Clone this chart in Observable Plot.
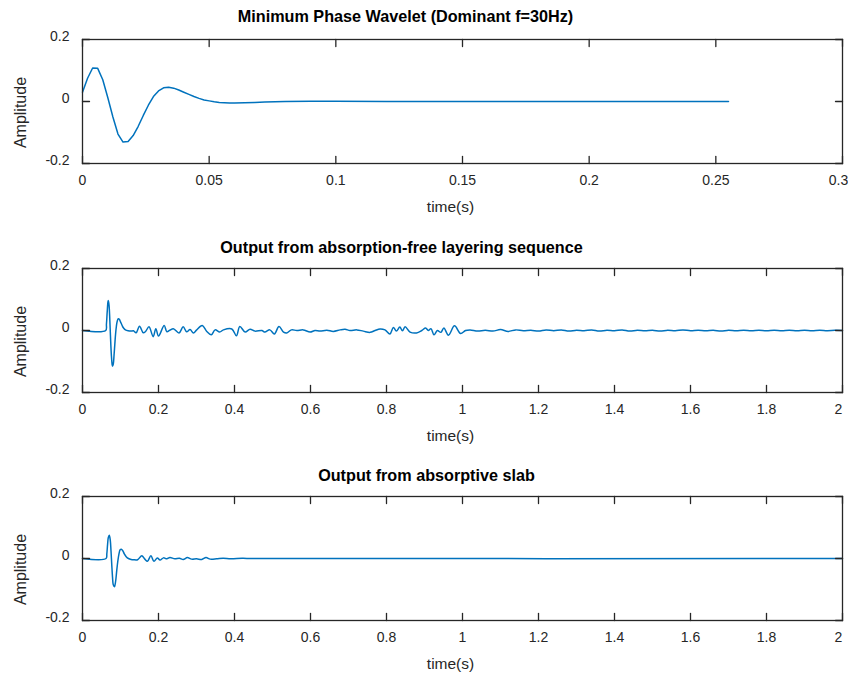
<!DOCTYPE html>
<html>
<head>
<meta charset="utf-8">
<script src="https://cdn.jsdelivr.net/npm/d3@7"></script>
<script src="https://cdn.jsdelivr.net/npm/@observablehq/plot@0.6"></script>
<style>
  html, body { margin: 0; padding: 0; background: #fff; }
  svg { display: block; }
</style>
</head>
<body>
<script>
// ---------- DATA ----------
const titles = [
  "Minimum Phase Wavelet (Dominant f=30Hz)",
  "Output from absorption-free layering sequence",
  "Output from absorptive slab"
];
const xLabel = "time(s)";
const yLabel = "Amplitude";

const xTicksWavelet = [0, 0.05, 0.1, 0.15, 0.2, 0.25, 0.3];
const xTicksOutput = [0, 0.2, 0.4, 0.6, 0.8, 1, 1.2, 1.4, 1.6, 1.8, 2];
const yTicks = [-0.2, 0, 0.2];

const waveletTime = [0, 0.002, 0.004, 0.006, 0.008, 0.010, 0.012, 0.014, 0.016, 0.018, 0.020, 0.022, 0.024, 0.026, 0.028, 0.030, 0.032, 0.034, 0.036, 0.038, 0.040, 0.042, 0.044, 0.046, 0.048, 0.050, 0.052, 0.054, 0.056, 0.058, 0.060, 0.064, 0.068, 0.072, 0.076, 0.080, 0.090, 0.100, 0.120, 0.150, 0.200, 0.255];
const waveletAmp = [0.030, 0.075, 0.108, 0.107, 0.070, 0.012, -0.050, -0.105, -0.131, -0.129, -0.110, -0.080, -0.045, -0.012, 0.016, 0.034, 0.044, 0.046, 0.043, 0.037, 0.030, 0.023, 0.016, 0.010, 0.005, 0.002, -0.001, -0.003, -0.004, -0.005, -0.005, -0.004, -0.003, -0.002, -0.001, 0.000, 0.0005, 0.0005, 0.0002, 0, 0, 0];

const layeredTime = [0, 0.061, 0.063, 0.065, 0.067, 0.068, 0.070, 0.072, 0.074, 0.076, 0.078, 0.079, 0.081, 0.083, 0.085, 0.087, 0.089, 0.091, 0.094, 0.097, 0.100, 0.104, 0.108, 0.113, 0.120, 0.128, 0.134, 0.141, 0.150, 0.160, 0.166, 0.175, 0.186, 0.193, 0.200, 0.215, 0.222, 0.230, 0.239, 0.254, 0.265, 0.274, 0.283, 0.292, 0.300, 0.315, 0.327, 0.339, 0.349, 0.361, 0.371, 0.393, 0.405, 0.414, 0.428, 0.441, 0.454, 0.472, 0.480, 0.493, 0.505, 0.517, 0.529, 0.537, 0.550, 0.564, 0.581, 0.599, 0.612, 0.625, 0.643, 0.660, 0.678, 0.691, 0.704, 0.722, 0.739, 0.757, 0.770, 0.783, 0.796, 0.809, 0.818, 0.826, 0.835, 0.842, 0.849, 0.862, 0.879, 0.893, 0.903, 0.910, 0.917, 0.925, 0.934, 0.943, 0.951, 0.963, 0.979, 0.995, 1.008, 1.02, 1.04, 1.06, 1.08, 1.10, 1.12, 1.14, 1.16, 1.18, 1.20, 1.22, 1.24, 1.26, 1.28, 1.30, 1.32, 1.34, 1.36, 1.38, 1.40, 1.42, 1.44, 1.46, 1.48, 1.50, 1.52, 1.54, 1.56, 1.58, 1.60, 1.62, 1.64, 1.66, 1.68, 1.70, 1.72, 1.74, 1.76, 1.78, 1.80, 1.82, 1.84, 1.86, 1.88, 1.90, 1.92, 1.94, 1.96, 1.98, 2.00];
const layeredAmp = [0, 0, 0.020, 0.060, 0.092, 0.097, 0.080, 0.030, -0.030, -0.080, -0.110, -0.115, -0.108, -0.080, -0.045, -0.012, 0.012, 0.028, 0.038, 0.036, 0.028, 0.017, 0.008, 0.002, -0.001, -0.002, -0.001, -0.0075, 0.014, -0.0075, -0.003, 0.012, -0.020, 0.006, -0.018, 0.016, -0.004, 0.001, 0.006, -0.008, 0.012, -0.004, 0.003, -0.008, 0.001, 0.016, -0.003, -0.014, 0.002, -0.005, 0.002, 0.005, -0.017, 0.013, -0.005, 0.004, -0.002, 0.000, -0.005, 0.002, -0.011, 0.013, -0.005, -0.008, 0.002, 0.000, 0.002, -0.005, 0.000, -0.002, 0.001, -0.003, 0.002, 0.004, 0.000, 0.002, -0.002, -0.006, 0.000, 0.005, 0.002, -0.011, 0.010, -0.002, 0.011, -0.001, 0.012, -0.005, -0.008, 0.000, 0.008, 0.000, 0.006, -0.014, 0.000, -0.006, 0.008, -0.015, 0.015, -0.010, 0.000, 0.002, -0.002, 0.001, -0.002, 0.003, -0.003, 0.002, -0.001, 0.001, -0.002, 0.002, -0.001, 0.002, -0.002, 0.001, -0.001, 0.002, -0.002, 0.001, -0.001, 0.002, -0.002, 0.001, -0.001, 0.001, -0.002, 0.001, -0.001, 0.002, -0.001, 0.001, -0.001, 0.001, -0.002, 0.001, -0.001, 0.001, -0.001, 0.0005, -0.001, 0.001, -0.0005, 0.001, -0.001, 0.0005, -0.001, 0.001, -0.0005, 0.0005, 0];

const slabTime = [0, 0.062, 0.064, 0.066, 0.068, 0.0705, 0.073, 0.075, 0.077, 0.079, 0.081, 0.084, 0.087, 0.090, 0.093, 0.096, 0.099, 0.102, 0.106, 0.110, 0.115, 0.121, 0.128, 0.134, 0.145, 0.156, 0.164, 0.171, 0.180, 0.188, 0.197, 0.204, 0.213, 0.222, 0.230, 0.243, 0.255, 0.265, 0.276, 0.287, 0.300, 0.314, 0.325, 0.336, 0.353, 0.370, 0.390, 0.420, 0.450, 2.0];
const slabAmp = [0, 0, 0.015, 0.045, 0.068, 0.075, 0.060, 0.025, -0.020, -0.060, -0.085, -0.091, -0.075, -0.040, -0.008, 0.015, 0.028, 0.030, 0.025, 0.015, 0.006, 0.000, -0.003, -0.004, -0.004, 0.009, -0.002, -0.009, 0.009, -0.009, 0.002, -0.005, 0.002, -0.001, 0.003, -0.001, 0.001, -0.003, 0.003, -0.002, -0.001, -0.003, 0.003, -0.002, -0.001, 0.001, -0.001, 0.0005, 0, 0];

// ---------- STYLE ----------
const FONT = "'Liberation Sans', Arial, Helvetica, sans-serif";
const LINE = "#0072BD";
const AXIS = "#262626";
const tickShape = { draw(context, l) { context.moveTo(0, 0); context.lineTo(0, -l); } };

function panel({title, xDomain, xTicks, t, a, height, marginBottom, titleDy, titleDx, curve}) {
  const data = t.map((d, i) => ({t: d, a: a[i]}));
  const lastTick = xTicks.slice(-1);
  const innerTicks = xTicks.slice(0, -1);
  const tickStyle = {x: d => d, length: 7, anchor: "start", shape: tickShape, stroke: AXIS, strokeWidth: 1.3};
  return Plot.plot({
    width: 848,
    height,
    marginLeft: 82,
    marginRight: 6,
    marginTop: 39,
    marginBottom,
    style: {fontFamily: FONT, fontSize: "14px", color: AXIS, background: "#fff", overflow: "visible"},
    x: {domain: xDomain},
    y: {domain: [-0.2, 0.2]},
    marks: [
      Plot.line(data, {x: "t", y: "a", stroke: LINE, strokeWidth: 1.5, curve}),
      Plot.frame({stroke: AXIS, strokeWidth: 1.3}),
      Plot.vector(xTicks, {...tickStyle, frameAnchor: "bottom", rotate: 0}),
      Plot.vector(xTicks, {...tickStyle, frameAnchor: "top", rotate: 180}),
      Plot.vector(yTicks, {...tickStyle, x: undefined, y: d => d, frameAnchor: "left", rotate: 90}),
      Plot.vector(yTicks, {...tickStyle, x: undefined, y: d => d, frameAnchor: "right", rotate: -90}),
      Plot.axisX(innerTicks, {anchor: "bottom", tickSize: 0, tickPadding: 12, tickFormat: d => String(d), fontSize: 14, fill: AXIS, label: null}),
      Plot.axisX(lastTick, {anchor: "bottom", tickSize: 0, tickPadding: 12, dx: -4, tickFormat: d => String(d), fontSize: 14, fill: AXIS, label: null}),
      Plot.axisY(yTicks, {anchor: "left", tickSize: 0, tickPadding: 13, dy: -3, tickFormat: d => String(d), fontSize: 14, fill: AXIS, label: null}),
      Plot.text([xLabel], {text: d => d, frameAnchor: "bottom", lineAnchor: "middle", textAnchor: "middle", dx: -12, dy: 44, fontSize: 15.5, fill: AXIS}),
      Plot.text([yLabel], {text: d => d, frameAnchor: "left", textAnchor: "middle", lineAnchor: "middle", dx: -62, dy: 11, rotate: -90, fontSize: 16, fill: AXIS}),
      Plot.text([title], {text: d => d, frameAnchor: "top", lineAnchor: "middle", textAnchor: "middle", dx: titleDx, dy: titleDy, fontSize: 16.2, fontWeight: "bold", fill: "#000"})
    ]
  });
}

document.body.append(
  panel({title: titles[0], xDomain: [0, 0.3], xTicks: xTicksWavelet, t: waveletTime, a: waveletAmp, height: 229, marginBottom: 66, titleDy: -23, titleDx: -57, curve: "linear"}),
  panel({title: titles[1], xDomain: [0, 2], xTicks: xTicksOutput, t: layeredTime, a: layeredAmp, height: 228, marginBottom: 65, titleDy: -21, titleDx: -61, curve: "catmull-rom"}),
  panel({title: titles[2], xDomain: [0, 2], xTicks: xTicksOutput, t: slabTime, a: slabAmp, height: 218, marginBottom: 55, titleDy: -21, titleDx: -36, curve: "catmull-rom"})
);
</script>
</body>
</html>
